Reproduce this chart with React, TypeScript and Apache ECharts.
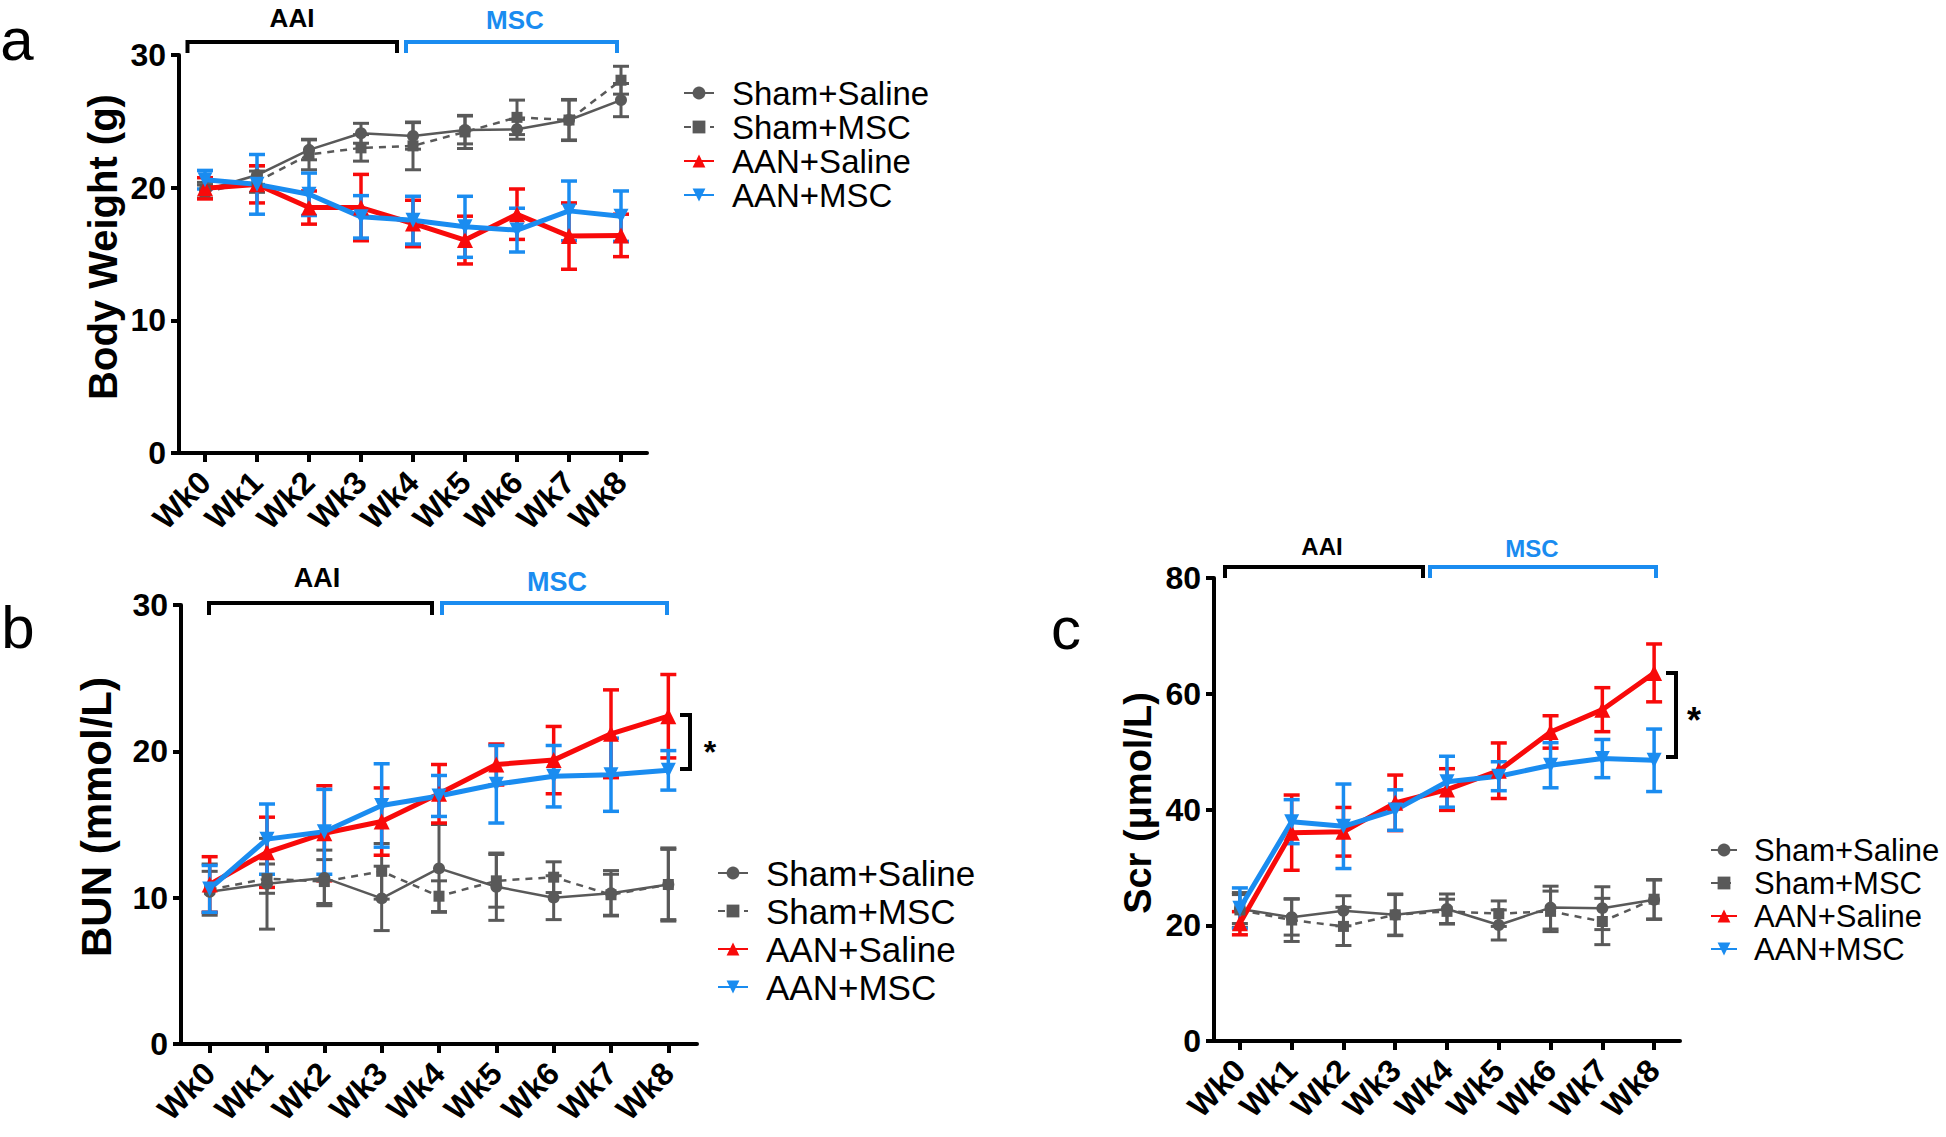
import React, { useEffect, useRef } from 'react';
import * as echarts from 'echarts';

const weeks = ['Wk0', 'Wk1', 'Wk2', 'Wk3', 'Wk4', 'Wk5', 'Wk6', 'Wk7', 'Wk8'];
const groups = ['Sham+Saline', 'Sham+MSC', 'AAN+Saline', 'AAN+MSC'];

// Panel a: Body Weight (g), mean and error
const bwShamSaline = [19.8, 20.95, 22.85, 24.1, 23.9, 24.35, 24.4, 25.1, 26.6];
const bwShamSalineErr = [0.6, 0.7, 0.75, 0.75, 1.0, 1.05, 0.75, 1.5, 1.25];
const bwShamMSC = [19.7, 20.45, 22.5, 23.0, 23.15, 24.2, 25.3, 25.1, 28.1];
const bwShamMSCErr = [0.5, 0.8, 1.15, 1.0, 1.8, 1.25, 1.3, 1.55, 1.05];
const bwAanSaline = [19.95, 20.25, 18.5, 18.5, 17.3, 16.05, 18.0, 16.35, 16.4];
const bwAanSalineErr = [0.8, 1.4, 1.25, 2.5, 1.75, 1.8, 1.9, 2.5, 1.6];
const bwAanMSC = [20.6, 20.25, 19.5, 17.8, 17.55, 17.05, 16.8, 18.25, 17.85];
const bwAanMSCErr = [0.7, 2.25, 1.6, 1.6, 1.8, 2.3, 1.65, 2.25, 1.9];

// Panel b: BUN (mmol/L)
const bunShamSaline = [10.4, 10.95, 11.35, 9.95, 12.0, 10.75, 10.0, 10.3, 10.9];
const bunShamSalineErr = [1.4, 3.1, 1.9, 2.2, 3.0, 2.3, 1.5, 1.55, 2.5];
const bunShamMSC = [10.55, 11.3, 11.1, 11.8, 10.1, 11.15, 11.4, 10.2, 10.9];
const bunShamMSCErr = [1.75, 1.0, 1.5, 1.9, 1.05, 1.8, 1.05, 1.4, 2.4];
const bunAanSaline = [10.9, 13.1, 14.4, 15.2, 17.1, 19.1, 19.4, 21.2, 22.4];
const bunAanSalineErr = [1.9, 2.4, 3.25, 2.3, 2.0, 1.4, 2.3, 3.0, 2.85];
const bunAanMSC = [10.6, 14.0, 14.5, 16.3, 16.95, 17.75, 18.3, 18.4, 18.7];
const bunAanMSCErr = [1.6, 2.4, 2.9, 2.85, 1.4, 2.65, 2.1, 2.5, 1.35];

// Panel c: Scr (umol/L)
const scrShamSaline = [22.8, 21.4, 22.5, 21.8, 22.8, 20.05, 23.05, 22.95, 24.4];
const scrShamSalineErr = [2.5, 3.1, 2.6, 3.5, 2.6, 2.6, 3.7, 3.7, 3.4];
const scrShamMSC = [22.65, 20.9, 19.8, 21.8, 22.4, 22.0, 22.4, 20.65, 24.5];
const scrShamMSCErr = [3.0, 3.7, 3.3, 3.6, 2.1, 2.2, 3.5, 4.0, 3.4];
const scrAanSaline = [20.35, 36.0, 36.15, 41.15, 43.45, 46.7, 53.4, 57.25, 63.6];
const scrAanSalineErr = [2.0, 6.5, 4.2, 4.8, 3.6, 4.8, 2.8, 3.8, 5.0];
const scrAanMSC = [22.95, 37.9, 37.1, 39.9, 44.8, 45.75, 47.65, 48.8, 48.5];
const scrAanMSCErr = [3.5, 3.8, 7.3, 3.5, 4.4, 2.5, 3.9, 3.3, 5.4];

const yMax = [30, 30, 80];
const yInterval = [10, 10, 20];

const FONT = 'Arial, "Liberation Sans", Helvetica, sans-serif';
const GRAY = '#595959';
const RED = '#f80a0a';
const BLUE = '#1a8cf0';

const groupStyles = [
  { color: GRAY, symbol: 'circle', size: 12, rotate: 0, width: 2.5, type: 'solid', errW: 3 },
  { color: GRAY, symbol: 'rect', size: 11, rotate: 0, width: 2.5, type: [7, 6], errW: 3 },
  { color: RED, symbol: 'triangle', size: 16, rotate: 0, width: 5, type: 'solid', errW: 3.5 },
  { color: BLUE, symbol: 'triangle', size: 15, rotate: 180, width: 5, type: 'solid', errW: 3.5 },
];

const panelData = [
  [[bwShamSaline, bwShamSalineErr], [bwShamMSC, bwShamMSCErr], [bwAanSaline, bwAanSalineErr], [bwAanMSC, bwAanMSCErr]],
  [[bunShamSaline, bunShamSalineErr], [bunShamMSC, bunShamMSCErr], [bunAanSaline, bunAanSalineErr], [bunAanMSC, bunAanMSCErr]],
  [[scrShamSaline, scrShamSalineErr], [scrShamMSC, scrShamMSCErr], [scrAanSaline, scrAanSalineErr], [scrAanMSC, scrAanMSCErr]],
];

const grids = [
  { left: 179, top: 55, width: 468, height: 398 },
  { left: 181, top: 605, width: 516, height: 439 },
  { left: 1214, top: 578, width: 466, height: 463 },
];
const tickFont = [32, 32, 32];

function buildOption() {
  const xAxis: any[] = [];
  const yAxis: any[] = [];
  const series: any[] = [];
  grids.forEach((g, p) => {
    xAxis.push({
      type: 'category',
      gridIndex: p,
      data: weeks,
      boundaryGap: true,
      axisLine: { show: true, lineStyle: { color: '#000', width: 4 } },
      axisTick: { show: true, alignWithLabel: true, interval: 0, length: 9, lineStyle: { color: '#000', width: 4 } },
      axisLabel: {
        interval: 0, rotate: 45, margin: 24, color: '#000',
        fontSize: tickFont[p], fontWeight: 'bold', fontFamily: FONT,
      },
      splitLine: { show: false },
    });
    yAxis.push({
      type: 'value',
      gridIndex: p,
      min: 0,
      max: yMax[p],
      interval: yInterval[p],
      axisLine: { show: true, lineStyle: { color: '#000', width: 4 } },
      axisTick: { show: true, length: 8, lineStyle: { color: '#000', width: 4 } },
      axisLabel: { margin: 13, color: '#000', fontSize: tickFont[p], fontWeight: 'bold', fontFamily: FONT },
      splitLine: { show: false },
    });
    panelData[p].forEach(([means, errs], k) => {
      const st = groupStyles[k];
      series.push({
        type: 'custom',
        name: 'err-' + p + '-' + k,
        xAxisIndex: p,
        yAxisIndex: p,
        z: 2,
        silent: true,
        data: means.map((m, i) => [i, m, errs[i]]),
        encode: { x: 0, y: 1 },
        renderItem: (params: any, api: any) => {
          const i = api.value(0);
          const m = api.value(1);
          const e = api.value(2);
          const top = api.coord([i, m + e]);
          const bot = api.coord([i, m - e]);
          const hw = 8;
          const style = { stroke: st.color, lineWidth: st.errW, fill: 'none' };
          return {
            type: 'group',
            children: [
              { type: 'line', shape: { x1: top[0], y1: top[1], x2: bot[0], y2: bot[1] }, style },
              { type: 'line', shape: { x1: top[0] - hw, y1: top[1], x2: top[0] + hw, y2: top[1] }, style },
              { type: 'line', shape: { x1: bot[0] - hw, y1: bot[1], x2: bot[0] + hw, y2: bot[1] }, style },
            ],
          };
        },
      });
    });
    panelData[p].forEach(([means], k) => {
      const st = groupStyles[k];
      series.push({
        type: 'line',
        name: groups[k],
        xAxisIndex: p,
        yAxisIndex: p,
        z: 3,
        data: means,
        symbol: st.symbol,
        symbolSize: st.size,
        symbolRotate: st.rotate,
        showAllSymbol: true,
        color: st.color,
        itemStyle: { color: st.color },
        lineStyle: { color: st.color, width: st.width, type: st.type },
        emphasis: { disabled: true },
      });
    });
  });

  const legendBase = (left: number, top: number, fs: number, gap: number, textPad: number, iw: number) => ({
    orient: 'vertical',
    left,
    top,
    padding: 0,
    itemGap: gap,
    itemWidth: iw,
    itemHeight: 16,
    selectedMode: false,
    data: groups,
    textStyle: { fontSize: fs, color: '#000', fontFamily: FONT, padding: [0, 0, 0, textPad] },
  });

  const bracket = (x1: number, x2: number, y: number, drop: number, color: string) => ({
    type: 'polyline',
    shape: { points: [[x1, y + drop], [x1, y], [x2, y], [x2, y + drop]] },
    style: { stroke: color, lineWidth: 4, fill: 'none' },
  });
  const txt = (text: string, x: number, y: number, font: string, color = '#000', rotation = 0) => ({
    type: 'text',
    x, y, rotation,
    style: { text, font, fill: color, textAlign: 'center', textVerticalAlign: 'middle' },
  });
  const sig = (x1: number, x2: number, y1: number, y2: number) => ({
    type: 'polyline',
    shape: { points: [[x1, y1], [x2, y1], [x2, y2], [x1, y2]] },
    style: { stroke: '#000', lineWidth: 4, fill: 'none' },
  });

  const graphic: any[] = [
    txt('a', 17, 39, 'normal 60px ' + FONT),
    txt('b', 18, 627, 'normal 60px ' + FONT),
    txt('c', 1066, 628, 'normal 60px ' + FONT),
    bracket(187.5, 397, 42, 11, '#000'),
    bracket(406, 617, 42, 11, BLUE),
    txt('AAI', 292, 18, 'bold 26px ' + FONT),
    txt('MSC', 515, 20, 'bold 26px ' + FONT, BLUE),
    bracket(209, 432, 603, 12, '#000'),
    bracket(442, 667, 603, 12, BLUE),
    txt('AAI', 317, 578, 'bold 27px ' + FONT),
    txt('MSC', 557, 582, 'bold 27px ' + FONT, BLUE),
    bracket(1225, 1423, 567, 11, '#000'),
    bracket(1430, 1656, 567, 11, BLUE),
    txt('AAI', 1322, 546, 'bold 24px ' + FONT),
    txt('MSC', 1532, 548, 'bold 24px ' + FONT, BLUE),
    txt('Body Weight (g)', 103, 247, 'bold 40px ' + FONT, '#000', Math.PI / 2),
    txt('BUN (mmol/L)', 96, 817, 'bold 42px ' + FONT, '#000', Math.PI / 2),
    txt('Scr (μmol/L)', 1138, 803, 'bold 38px ' + FONT, '#000', Math.PI / 2),
    sig(680, 690, 715, 769),
    txt('*', 710, 752, 'bold 32px ' + FONT),
    sig(1666, 1676, 673, 757),
    txt('*', 1694, 720, 'bold 36px ' + FONT),
  ];

  return {
    animation: false,
    backgroundColor: '#fff',
    grid: grids.map((g) => ({ ...g, containLabel: false })),
    xAxis,
    yAxis,
    legend: [
      legendBase(683, 76.5, 33, 1, 13, 30),
      legendBase(717, 855.5, 35, 3, 13, 30),
      legendBase(1710, 834.5, 31, 2, 12, 26),
    ],
    series,
    graphic,
  };
}

export default function App() {
  const ref = useRef<HTMLDivElement>(null);
  useEffect(() => {
    const chart = echarts.init(ref.current as HTMLDivElement, null, { renderer: 'svg' });
    chart.setOption(buildOption() as any);
    return () => chart.dispose();
  }, []);
  return (
    <div
      ref={ref}
      style={{ position: 'absolute', left: 0, top: 0, width: 1946, height: 1137, background: '#fff' }}
    />
  );
}
